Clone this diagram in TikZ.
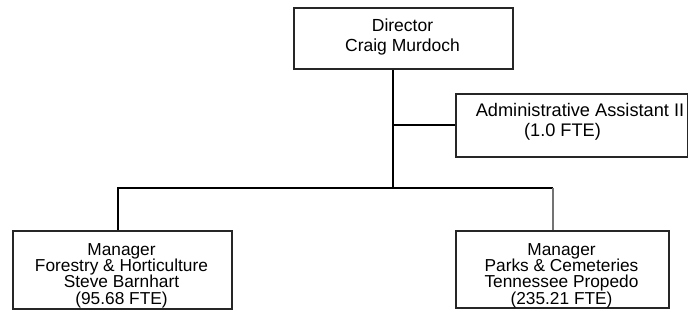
\documentclass[tikz,border=0pt]{standalone}
\usepackage{fontspec}
\setmainfont{Liberation Sans}
\begin{document}
\begin{tikzpicture}[x=1pt,y=1pt,
  box/.style={draw=black!85, line width=1.5pt, rectangle, inner sep=0pt, anchor=north west},
  toptext/.style={align=center, anchor=base, inner sep=0pt, font=\fontsize{17.5}{20}\selectfont},
  lowtext/.style={align=center, anchor=base, inner sep=0pt, font=\fontsize{17.3}{16.3}\selectfont},
  link/.style={line width=2pt, black},
  thinlink/.style={line width=1.4pt, black!55}]
\useasboundingbox (0,0) rectangle (688,-322);

% boxes
\node[box, minimum width=219pt, minimum height=61pt] (dir) at (293,-7) {};
\node[box, minimum width=232pt, minimum height=63pt] (adm) at (455,-93) {};
\node[box, minimum width=219pt, minimum height=78pt] (fh) at (12,-230) {};
\node[box, minimum width=213pt, minimum height=77pt] (pc) at (455,-230) {};

% texts (anchored at the baseline of the last line)
\node[toptext] (dirtxt) at (402.5,-51.7) {Director\\Craig Murdoch};
\node[toptext, font=\fontsize{18.2}{20}\selectfont] (admtxt) at (580,-136.7)
  {Administrative Assistant II\\(1.0 FTE)\hspace*{35pt}};
\node[lowtext] (fhtxt) at (121.5,-304) {Manager\\Forestry \& Horticulture\\Steve Barnhart\\(95.68 FTE)};
\node[lowtext] (pctxt) at (561.5,-304) {Manager\\Parks \& Cemeteries\\Tennessee Propedo\\(235.21 FTE)};

% connector junctions
\coordinate (trunk) at (393,-188);
\coordinate (lv) at (118,-188);
\coordinate (rv) at (553,-188);

\draw[link] (trunk |- dir.south) -- (trunk);
\draw[link] (trunk |- adm.west) -- (adm.west);
\draw[link] (lv |- fh.north) -- (lv) -- (rv);
\draw[thinlink] (rv) -- (rv |- pc.north);
\end{tikzpicture}
\end{document}
